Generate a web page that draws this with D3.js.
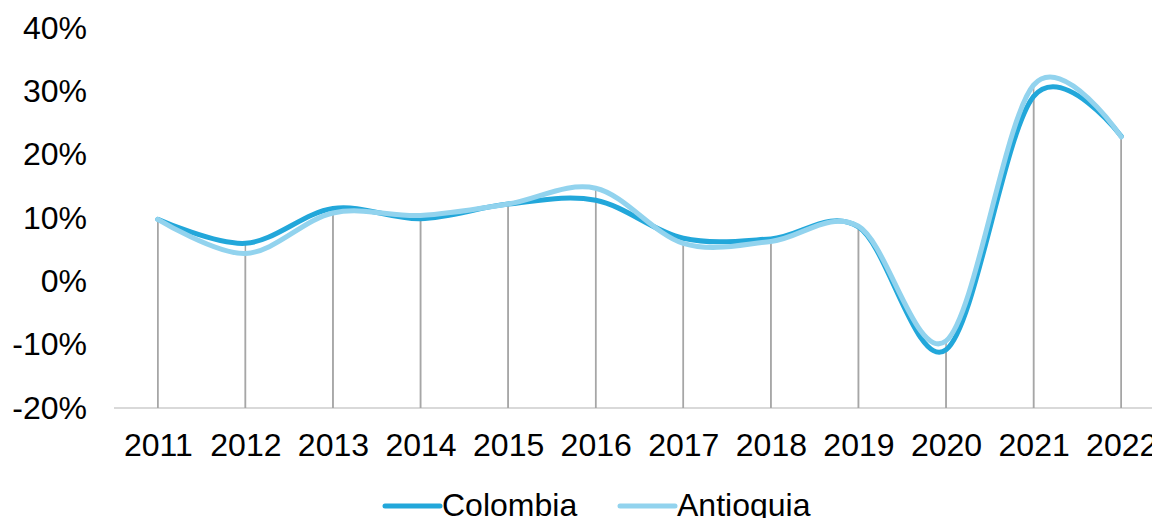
<!DOCTYPE html>
<html>
<head>
<meta charset="utf-8">
<script src="https://cdn.jsdelivr.net/npm/d3@7"></script>
<style>
  html, body { margin: 0; padding: 0; background: #fff; }
  svg { display: block; font-family: "Liberation Sans", Arial, sans-serif; }
</style>
</head>
<body>
<div id="view"></div>
<script>
  // ---- data ----
  const years     = ["2011","2012","2013","2014","2015","2016","2017","2018","2019","2020","2021","2022"];
  const colombia  = [9.8, 6.0, 11.5, 9.9, 12.2, 12.8, 6.8, 6.7, 8.6, -10.8, 29.2, 22.9];
  const antioquia = [9.8, 4.4, 10.8, 10.4, 12.2, 14.7, 6.0, 6.3, 8.7, -9.4, 31.0, 22.8];
  const yTicks    = [-20, -10, 0, 10, 20, 30, 40];

  const series = [
    { name: "Colombia",  values: colombia,  color: "#22a7da" },
    { name: "Antioquia", values: antioquia, color: "#92d3ee" }
  ];

  const W = 1152, H = 518;
  const FS = "32px";
  const svg = d3.select("#view").append("svg")
    .attr("width", W).attr("height", H);

  const x = d3.scalePoint().domain(years).range([114, 1165]).padding(0.5);
  const y = d3.scaleLinear().domain([-20, 40]).range([408, 28]);

  // Y axis labels (no line, no ticks)
  const yAxis = svg.append("g")
    .attr("transform", "translate(87,0)")
    .call(d3.axisLeft(y).tickValues(yTicks).tickSize(0).tickPadding(0).tickFormat(d => d + "%"));
  yAxis.select(".domain").remove();
  yAxis.selectAll("text")
    .style("font-size", FS).attr("fill", "#000")
    .attr("font-family", "Liberation Sans, Arial, sans-serif");

  // category axis baseline
  svg.append("line")
    .attr("x1", 114).attr("x2", W)
    .attr("y1", y(-20)).attr("y2", y(-20))
    .attr("stroke", "#d9d9d9").attr("stroke-width", 2);

  // drop lines
  series.forEach(s => {
    svg.append("g").selectAll("line")
      .data(s.values)
      .join("line")
      .attr("x1", (d, i) => x(years[i])).attr("x2", (d, i) => x(years[i]))
      .attr("y1", d => y(d)).attr("y2", y(-20))
      .attr("stroke", "#a6a6a6").attr("stroke-width", 1.5);
  });

  // X axis labels
  const xAxis = svg.append("g")
    .attr("transform", `translate(0,${y(-20)})`)
    .call(d3.axisBottom(x).tickSize(0).tickPadding(25));
  xAxis.select(".domain").remove();
  xAxis.selectAll("text")
    .style("font-size", FS).attr("fill", "#000")
    .attr("font-family", "Liberation Sans, Arial, sans-serif");

  // smooth lines
  const line = d3.line()
    .x((d, i) => x(years[i]))
    .y(d => y(d))
    .curve(d3.curveCardinal.tension(0));

  svg.append("g").selectAll("path")
    .data(series)
    .join("path")
    .attr("d", d => line(d.values))
    .attr("fill", "none")
    .attr("stroke", d => d.color)
    .attr("stroke-width", 5)
    .attr("stroke-linecap", "round");

  // legend
  const legendPos = [385, 620];
  const lg = svg.append("g").selectAll("g")
    .data(series)
    .join("g")
    .attr("transform", (d, i) => `translate(${legendPos[i]},506)`);
  lg.append("line")
    .attr("x1", 0).attr("x2", 55)
    .attr("stroke", d => d.color).attr("stroke-width", 5)
    .attr("stroke-linecap", "round");
  lg.append("text")
    .attr("x", 57).attr("y", 10)
    .style("font-size", FS)
    .text(d => d.name);
</script>
</body>
</html>
